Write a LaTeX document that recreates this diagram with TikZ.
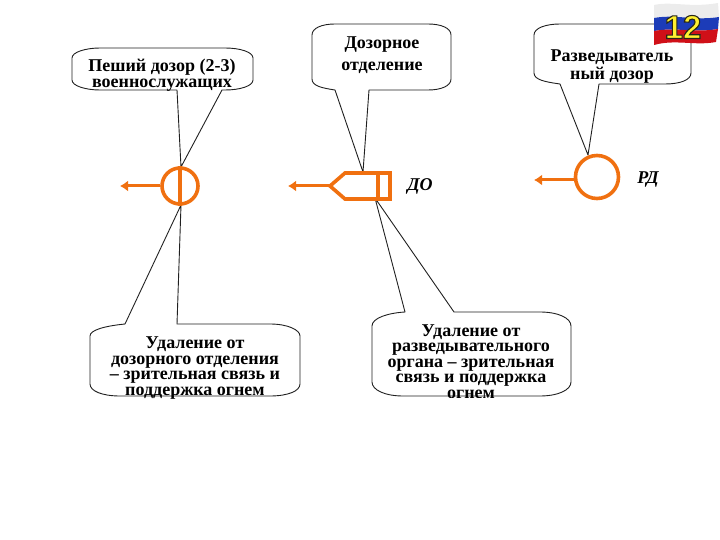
\documentclass[tikz,border=0pt]{standalone}
\usepackage{fontspec}
\setmainfont{Liberation Serif}
\newfontfamily\flagfont{Liberation Sans}
\usetikzlibrary{arrows.meta}
\definecolor{MarkOrange}{HTML}{F07010}
\definecolor{BubbleRule}{HTML}{202020}
\definecolor{FlagWhite}{HTML}{ECECEC}
\definecolor{FlagBlue}{HTML}{1C3CB8}
\definecolor{FlagRed}{HTML}{D01018}
\definecolor{FlagYellow}{HTML}{FFF030}
\newcommand{\outlined}[1]{\special{pdf:code q 2 Tr 1.1 w 0.15 0.15 0.1 RG}#1\special{pdf:code Q}}
\begin{document}
\begin{tikzpicture}[x=1pt,y=-1pt,
  bubble/.style={draw=BubbleRule, fill=white, line width=0.9pt, line join=round},
  txt/.style={align=center, inner sep=0pt, text=black,
              font=\bfseries\fontsize{18}{15.4}\selectfont},
  tag/.style={inner sep=0pt, font=\bfseries\itshape\fontsize{18}{18}\selectfont},
  sign/.style={draw=MarkOrange, line width=3.6pt, fill=white, inner sep=0pt},
  orangeline/.style={draw=MarkOrange, line width=3.6pt},
  arr/.style={-{Latex[length=8pt,width=11pt]}, draw=MarkOrange, line width=3pt},
  flagnum/.style={inner sep=0pt, font=\flagfont\bfseries\fontsize{33}{33}\selectfont}]
  \useasboundingbox (0,0) rectangle (720,540);
  % callouts
  \draw[bubble] (72,58) .. controls (72,52) and (86,48) .. (100,48) -- (225,48)
    .. controls (240,48) and (253,52) .. (253,58) -- (253,80)
    .. controls (253,86) and (240,90) .. (225,90) -- (222,90) -- (181,167) -- (177,90) -- (100,90)
    .. controls (86,90) and (72,86) .. (72,80) -- cycle;
  \draw[bubble] (312,35) .. controls (312,28) and (322,24) .. (335,24) -- (428,24)
    .. controls (441,24) and (451,28) .. (451,35) -- (451,79)
    .. controls (451,86) and (441,90) .. (428,90) -- (369,90) -- (363,172) -- (335,90)
    .. controls (322,88) and (312,86) .. (312,79) -- cycle;
  \draw[bubble] (534,35) .. controls (534,28) and (546,24) .. (560,24) -- (665,24)
    .. controls (680,24) and (691,28) .. (691,35) -- (691,73)
    .. controls (691,80) and (680,84) .. (665,84) -- (599,84) -- (588,155) -- (560,84)
    .. controls (546,82) and (534,80) .. (534,73) -- cycle;
  \draw[bubble] (90,336) .. controls (90,330) and (105,326) .. (125,324) -- (181,205) -- (177,324) -- (270,324)
    .. controls (288,324) and (300,330) .. (300,336) -- (300,384)
    .. controls (300,391) and (288,396) .. (270,396) -- (120,396)
    .. controls (102,396) and (90,391) .. (90,384) -- cycle;
  \draw[bubble] (372,326) .. controls (372,318) and (388,313) .. (405,312) -- (375,198) -- (454,312) -- (540,312)
    .. controls (558,312) and (571,318) .. (571,326) -- (571,382)
    .. controls (571,390) and (558,396) .. (540,396) -- (403,396)
    .. controls (385,396) and (372,390) .. (372,382) -- cycle;
  % callout texts
  \node[txt] (patroltxt) at (162,75) {Пеший дозор (2-3)\\военнослужащих};
  \node[txt, font=\bfseries\fontsize{18}{22}\selectfont] (squadtxt) at (382,55) {Дозорное\\отделение};
  \node[txt, font=\bfseries\fontsize{18}{18}\selectfont] (scouttxt) at (612,66.5) {Разведыватель\\ный дозор};
  \node[txt] (disttxt) at (195,368) {Удаление от\\дозорного отделения\\– зрительная связь и\\поддержка огнем};
  \begin{scope}
    \clip (372,300) rectangle (571,397);
    \node[txt] (scoutdist) at (471,361.5) {Удаление от\\разведывательного\\органа – зрительная\\связь и поддержка\\огнем};
  \end{scope}
  % map marks
  \coordinate (patroltip) at (120,186);
  \coordinate (squadtip) at (288,186);
  \coordinate (scouttip) at (534,180);
  \node[sign, circle, minimum size=36pt] (patrol) at (180,186) {};
  \draw[orangeline] (patrol.north) -- (patrol.south);
  \draw[arr] (patrol.west) -- (patroltip);
  \node[sign, circle, minimum size=43pt] (scout) at (597,177) {};
  \draw[arr] (scout.west |- scouttip) -- (scouttip);
  \coordinate (squadnose) at (330,186);
  \draw[orangeline] (squadnose) -- (345,173) -- (390,173) -- (390,199) -- (345,199) -- cycle;
  \draw[orangeline] (378,173) -- (378,199);
  \draw[arr] (squadnose) -- (squadtip);
  \node[tag] (squadtag) at (420,186) {ДО};
  \node[tag] (scouttag) at (648,180) {РД};
  % flag
  \fill[FlagWhite] (654,5) .. controls (672,1) and (690,8) .. (718,3) -- (719,17) .. controls (695,21) and (675,14) .. (654,18) -- cycle;
  \fill[FlagBlue] (654,18) .. controls (675,14) and (695,21) .. (719,17) -- (718,29) .. controls (695,33) and (675,27) .. (654,31) -- cycle;
  \fill[FlagRed] (654,31) .. controls (675,27) and (695,33) .. (718,29) -- (716,42) .. controls (695,46) and (675,39) .. (654,45) -- cycle;
  \node[flagnum, text=FlagYellow] (flagyellow) at (683,27) {\outlined{12}};
\end{tikzpicture}
\end{document}
